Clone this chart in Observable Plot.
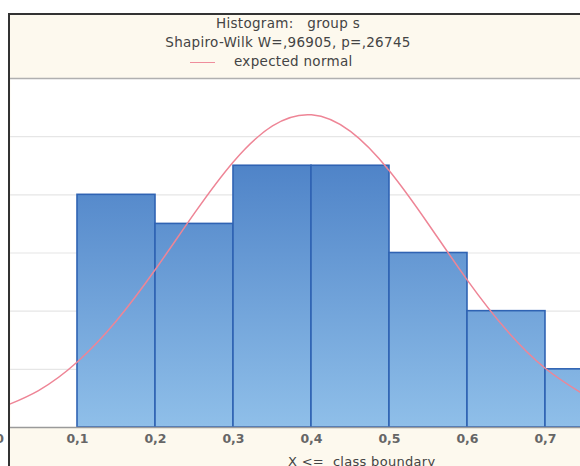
<!DOCTYPE html>
<html><head><meta charset="utf-8">
<script src="https://cdn.jsdelivr.net/npm/d3@7"></script>
<script src="https://cdn.jsdelivr.net/npm/@observablehq/plot@0.6"></script>
<style>
body{margin:0;background:#fff;}
#wrap{position:relative;width:580px;height:466px;overflow:hidden;background:#fff;font-family:"DejaVu Sans",sans-serif;color:#444;}
#panel{position:absolute;left:8px;top:13px;width:600px;height:470px;background:#fdf9ee;border-left:2px solid #333;border-top:2px solid #333;}
.t{position:absolute;left:-2px;width:580px;text-align:center;font-size:13.5px;letter-spacing:0.3px;white-space:pre;line-height:15px;}
#legline{position:absolute;left:190px;top:62px;width:25px;height:0;border-top:1.5px solid #ef8d9c;}
#legtext{position:absolute;left:234px;top:54px;font-size:13.5px;letter-spacing:0.3px;white-space:pre;line-height:15px;}
#chart{position:absolute;left:0;top:78px;}
#xlab{position:absolute;left:288px;top:454px;font-size:13px;letter-spacing:0.3px;white-space:pre;}
</style></head>
<body>
<div id="wrap">
  <div id="panel"></div>
  <div class="t" style="top:16px">Histogram:   group s</div>
  <div class="t" style="top:35px">Shapiro-Wilk W=,96905, p=,26745</div>
  <div id="legline"></div>
  <div id="legtext">expected normal</div>
  <div id="chart"></div>
  <div id="xlab">X &lt;=  class boundary</div>
</div>
<script>
// histogram bins (upper class boundaries) and counts
const binLo = [0.1, 0.2, 0.3, 0.4, 0.5, 0.6, 0.7];
const binHi = [0.2, 0.3, 0.4, 0.5, 0.6, 0.7, 0.8];
const counts = [8, 7, 9, 9, 6, 4, 2];
// expected normal curve
const curveX = [0, 0.05, 0.1, 0.15, 0.2, 0.25, 0.3, 0.35, 0.4, 0.45, 0.5, 0.55, 0.6, 0.65, 0.7, 0.75];
const curveY = [0.66, 1.27, 2.26, 3.67, 5.44, 7.37, 9.14, 10.37, 10.75, 10.18, 8.82, 6.99, 5.06, 3.35, 2.03, 1.12];
const xTicks = [0, 0.1, 0.2, 0.3, 0.4, 0.5, 0.6, 0.7];
const yGrid = [2, 4, 6, 8, 10];

const bars = binLo.map((lo, i) => ({lo, hi: binHi[i], count: counts[i]}));
const curve = curveX.map((x, i) => ({x, y: curveY[i]}));

const chart = Plot.plot({
  width: 580, height: 388,
  marginLeft: 10, marginRight: 0, marginTop: 0, marginBottom: 39,
  style: {background: "transparent", overflow: "visible", fontFamily: "DejaVu Sans, sans-serif"},
  x: {domain: [0.0141, 0.7449], axis: null},
  y: {domain: [0, 12], axis: null},
  marks: [
    Plot.frame({fill: "white", stroke: null}),
    Plot.gridY(yGrid, {stroke: "#e6e6e6", strokeOpacity: 1, strokeWidth: 1.2}),
    Plot.rectY(bars, {x1: "lo", x2: "hi", y: "count", fill: "url(#barGrad)", stroke: "#2f63b3", strokeWidth: 1.6, clip: true}),
    Plot.line(curve, {x: "x", y: "y", stroke: "#ee8596", strokeWidth: 1.5, curve: "natural", clip: true}),
    Plot.ruleY([0], {stroke: "#9a9a9a", strokeWidth: 1.5}),
    Plot.ruleY([12], {stroke: "#b0b0b0", strokeWidth: 1.5}),
    Plot.axisX(xTicks, {tickSize: 0, tickPadding: 7, fontSize: 12.5, fontWeight: "bold", fill: "#666",
      tickFormat: d => d === 0 ? "0" : d.toFixed(1).replace(".", ","), label: null})
  ]
});
// vertical gradient shared by all bars
const defs = d3.select(chart).insert("defs", ":first-child");
const g = defs.append("linearGradient").attr("id", "barGrad")
  .attr("gradientUnits", "userSpaceOnUse").attr("x1", 0).attr("x2", 0).attr("y1", 0).attr("y2", 349);
g.append("stop").attr("offset", "0%").attr("stop-color", "#3a70bd");
g.append("stop").attr("offset", "100%").attr("stop-color", "#8fbfe9");
document.getElementById("chart").appendChild(chart);
</script>
</body></html>
